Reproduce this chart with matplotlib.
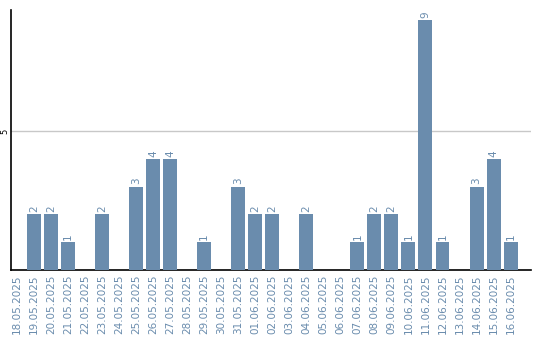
import matplotlib
matplotlib.use("Agg")
import matplotlib.pyplot as plt

dates = ["18.05.2025", "19.05.2025", "20.05.2025", "21.05.2025", "22.05.2025",
         "23.05.2025", "24.05.2025", "25.05.2025", "26.05.2025", "27.05.2025",
         "28.05.2025", "29.05.2025", "30.05.2025", "31.05.2025", "01.06.2025",
         "02.06.2025", "03.06.2025", "04.06.2025", "05.06.2025", "06.06.2025",
         "07.06.2025", "08.06.2025", "09.06.2025", "10.06.2025", "11.06.2025",
         "12.06.2025", "13.06.2025", "14.06.2025", "15.06.2025", "16.06.2025"]
counts = [0, 2, 2, 1, 0, 2, 0, 3, 4, 4, 0, 1, 0, 3, 2, 2, 0, 2, 0, 0,
          1, 2, 2, 1, 9, 1, 0, 3, 4, 1]

blue = "#6a8cad"

fig = plt.figure(figsize=(5.4, 3.4), dpi=100)
ax = fig.add_axes([11 / 540, 70 / 340, 520 / 540, 260 / 340])

x = list(range(len(dates)))
bars = ax.bar(x, counts, width=0.82, color=blue, zorder=3)

# подписи над столбцами (только ненулевые)
for xi, v in zip(x, counts):
    if v > 0:
        ax.text(xi, v + 0.08, str(v), rotation=90, ha="center", va="bottom",
                fontsize=7.5, color=blue)

ax.set_xlim(-0.35, 30.2)
ax.set_ylim(0, 9.35)
ax.set_xticks(x)
ax.set_xticklabels(dates, rotation=90, fontsize=7.5, color=blue)
ax.set_yticks([5])
ax.set_yticklabels(["5"], rotation=90, fontsize=6, va="center")
ax.tick_params(axis="x", length=0, pad=3)
ax.tick_params(axis="y", length=0, pad=1)
ax.yaxis.grid(True, color="#c8c8c8", linewidth=1, zorder=0)

for side in ["top", "right"]:
    ax.spines[side].set_visible(False)
ax.spines["left"].set_linewidth(1.2)
ax.spines["bottom"].set_linewidth(1.2)

fig.savefig("out.png", dpi=100)
